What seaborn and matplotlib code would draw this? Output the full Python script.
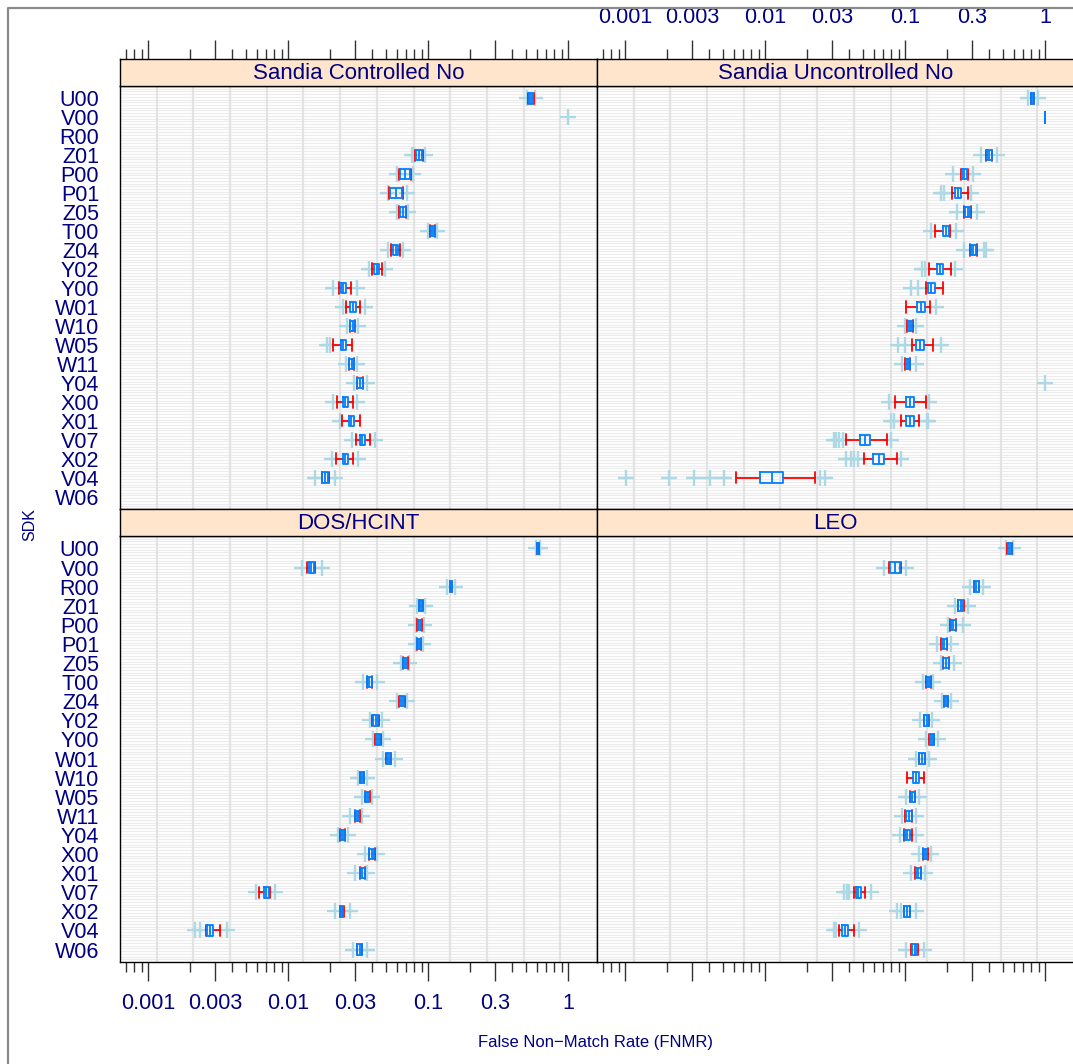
"""FNMR box-and-whisker panels by SDK for four datasets (lattice-style)."""

import numpy as np
import pandas as pd
import matplotlib.pyplot as plt
import matplotlib.ticker as mticker
from matplotlib.lines import Line2D
import seaborn as sns

SDKS = ["U00", "V00", "R00", "Z01", "P00", "P01", "Z05", "T00", "Z04", "Y02", "Y00",
        "W01", "W10", "W05", "W11", "Y04", "X00", "X01", "V07", "X02", "V04", "W06"]

PANELS = ["Sandia Controlled No", "Sandia Uncontrolled No", "DOS/HCINT", "LEO"]

# (whisker low, q1, median, q3, whisker high) per SDK, None = no box drawn
SCN_STATS = [
    (.52, .526, .544, .562, .57), None, None,
    (.081, .0821, .0862, .0906, .092), (.062, .0631, .0685, .0743, .075),
    (.053, .0535, .059, .0652, .066), (.062, .0631, .0662, .0696, .070),
    (.104, .105, .1085, .1122, .113), (.0544, .0562, .0586, .061, .0631),
    (.0398, .0411, .0429, .0449, .0467), (.0232, .0238, .0248, .0258, .0282),
    (.0258, .0277, .029, .0305, .0327), (.0275, .0277, .0291, .0301, .0303),
    (.0211, .0238, .0248, .0258, .0285), (.0272, .0274, .0285, .0296, .0298),
    (.031, .0313, .0327, .0342, .0345), (.0225, .0246, .0257, .027, .0293),
    (.0242, .0271, .0283, .0296, .0327), (.0305, .0327, .034, .0355, .0385),
    (.022, .0246, .0257, .027, .0293), (.0174, .0176, .0184, .0192, .0195), None,
]
SCN_OUT = [
    [.51, .58], [1.0], [], [.077, .079, .095], [.060, .078], [.0518, .0708],
    [.060, .072], [.100, .116], [.0518, .0663], [.0381, .0493], [.0209, .031],
    [.0246, .0355], [.0265, .0316], [.019, .020], [.0261, .031], [.0296, .0364],
    [.021, .0313], [.0235], [.0285, .0418], [.0205, .0318], [.0156, .0217], [],
]

SUN_STATS = [
    (.79, .794, .817, .838, .84), (1.0, 1.0, 1.0, 1.0, 1.0), None,
    (.38, .383, .397, .415, .42), (.25, .2535, .2644, .2764, .28),
    (.216, .228, .239, .2504, .2797), (.265, .2688, .2802, .292, .296),
    (.164, .187, .1955, .2045, .209), (.29, .2953, .3078, .3207, .325),
    (.1485, .1686, .178, .1883, .2125), (.1406, .146, .1545, .1632, .1883),
    (.1012, .1213, .1295, .1384, .151), (.104, .105, .109, .113, .114),
    (.113, .1207, .1285, .1368, .1597), (.100, .1012, .105, .1086, .109), None,
    (.0844, .1012, .108, .116, .1406), (.0931, .1012, .108, .116, .126),
    (.0376, .0476, .0517, .0562, .0739), (.0509, .0594, .0648, .0707, .0882),
    (.00624, .00916, .01125, .0135, .0226), None,
]
SUN_OUT = [
    [.752, .887], [], [], [.348, .453], [.2185, .304], [.18, .19, .2953],
    [.237, .326], [.1527, .2306], [.2644, .3677, .38], [.1316, .1384, .227],
    [.1099, .124], [.166], [.0995, .119], [.0897, .0995, .18], [.0958, .119],
    [1.0], [.0768, .1485], [.079, .083, .143, .145],
    [.031, .0324, .0339, .0358, .079], [.0376, .0409, .0429, .0459, .0931],
    [.00102, .00207, .00309, .00407, .00512, .0249, .027], [],
]

DOS_STATS = [
    (.598, .6, .6105, .621, .623), (.0136, .0141, .01467, .01534, .0156),
    (.143, .144, .146, .148, .149), (.086, .0867, .0891, .0917, .0925),
    (.084, .0844, .0867, .0891, .090), (.0835, .0839, .0862, .0885, .089),
    (.066, .0667, .0688, .0711, .0715), (.0365, .0368, .0382, .0396, .040),
    (.0625, .0631, .0652, .0674, .068), (.040, .0403, .0422, .0442, .0445),
    (.042, .0425, .044, .0454, .046), (.0505, .0507, .0524, .0542, .0545),
    (.0325, .0327, .0338, .0349, .035), (.0353, .0355, .0368, .0381, .0383),
    (.030, .0301, .0312, .0323, .0325), (.0237, .0238, .0246, .0255, .0257),
    (.0377, .0379, .0396, .0413, .0415), (.0325, .0327, .034, .0355, .0357),
    (.00624, .00674, .007, .00728, .0074), (.0234, .0235, .0242, .0248, .025),
    (.0026, .00265, .00277, .0029, .00327), (.0311, .0313, .0325, .0338, .034),
]
DOS_OUT = [
    [.595, .628], [.01253, .0174], [.136, .156], [.084, .095], [.082, .093],
    [.0815, .092], [.064, .0735], [.0342, .043], [.0597, .0705], [.0385, .0467],
    [.0405, .048], [.0475, .0581], [.0318, .0365], [.0336, .0396], [.0277, .0336],
    [.0229, .027], [.0355, .043], [.0301, .0365], [.0059, .00807], [.0217, .0277],
    [.00217, .00235, .00365], [.029, .0365],
]

LEO_STATS = [
    (.538, .541, .559, .578, .58), (.077, .078, .0848, .0921, .093),
    (.31, .312, .3234, .3353, .337), (.238, .2394, .2495, .26, .262),
    (.211, .2125, .2213, .2306, .232), (.181, .1823, .1902, .1988, .20),
    (.187, .1883, .1963, .2045, .206), (.142, .143, .1478, .1527, .154),
    (.189, .1902, .1955, .2012, .202), (.136, .1368, .1425, .1485, .1495),
    (.149, .15, .1558, .1613, .162), (.125, .126, .1323, .139, .14),
    (.104, .1148, .1202, .126, .1368), (.108, .1086, .113, .1173, .118),
    (.1005, .1012, .1063, .1117, .1125), (.099, .0995, .104, .1086, .113),
    (.135, .1355, .14, .1446, .145), (.1185, .119, .1243, .1295, .130),
    (.043, .0444, .0462, .0482, .0517), (.098, .0984, .1033, .1086, .109),
    (.034, .0356, .0374, .0393, .0431), (.111, .1117, .117, .1227, .123),
]
LEO_OUT = [
    [.53, .59], [.0707, .1012], [.292, .358], [.227, .2797], [.2012, .2575],
    [.1686, .2148], [.18, .222], [.1355, .1597], [.184, .2125], [.128, .157],
    [.1406, .172], [.119, .1485], [], [.1012, .126], [.0958, .119], [.0921, .119],
    [.126, .154], [.1099, .1384], [.0366, .0383, .0397, .0568],
    [.0882, .0931, .119], [.031, .0324, .0469], [.1012, .1368],
]

MAJOR_TICKS = [0.001, 0.003, 0.01, 0.03, 0.1, 0.3, 1]
MAJOR_LABELS = ["0.001", "0.003", "0.01", "0.03", "0.1", "0.3", "1"]
MINOR_TICKS = [0.0007, 0.0008, 0.0009, 0.002, 0.004, 0.005, 0.006, 0.007, 0.008, 0.009,
               0.02, 0.04, 0.05, 0.06, 0.07, 0.08, 0.09,
               0.2, 0.4, 0.5, 0.6, 0.7, 0.8, 0.9]

NAVY = "#000080"
BOX_BLUE = "#0080ff"
LIGHT = "#add8e6"
STRIP = "#ffe5cc"
XLO, XHI = 10 ** -3.2, 10 ** 0.207
YLO, YHI = 0.35, 22.65

sns.set_theme(style="white")
plt.rcParams["font.family"] = ["Liberation Sans", "DejaVu Sans"]

# long tables for the grid
box_rows, out_rows = [], []
all_stats = [SCN_STATS, SUN_STATS, DOS_STATS, LEO_STATS]
all_out = [SCN_OUT, SUN_OUT, DOS_OUT, LEO_OUT]
for panel, stats, outs in zip(PANELS, all_stats, all_out):
    for i, (sdk, st, ol) in enumerate(zip(SDKS, stats, outs)):
        if st is not None:
            box_rows.append(dict(panel=panel, sdk=sdk, pos=i + 1, whislo=st[0], q1=st[1],
                                 med=st[2], q3=st[3], whishi=st[4]))
        for v in ol:
            out_rows.append(dict(panel=panel, sdk=sdk, pos=i + 1, fnmr=v))
box_df = pd.DataFrame(box_rows)
out_df = pd.DataFrame(out_rows)


def draw_panel(data, **kws):
    ax = plt.gca()
    panel = data["panel"].iloc[0]
    ax.set_xscale("log")
    # background grid like lattice panel.grid
    ax.hlines(np.linspace(YLO, YHI, 157), XLO, XHI, color="#ececec", lw=0.8, zorder=0)
    for gx in 10 ** np.linspace(-3.2, 0.207, 14)[1:-1]:
        ax.axvline(gx, color="#e3e3e3", lw=1.6, zorder=0.5)

    o = out_df[out_df["panel"] == panel]
    sns.scatterplot(data=o, x="fnmr", y="pos", marker="+", s=130, color=LIGHT,
                    linewidth=1.7, ax=ax, zorder=2, legend=False)

    stats = [dict(whislo=r.whislo, q1=r.q1, med=r.med, q3=r.q3, whishi=r.whishi, fliers=[])
             for r in data.itertuples()]
    parts = ax.bxp(stats, positions=data["pos"].tolist(), orientation="horizontal",
                   widths=0.55, capwidths=0.6, showfliers=False, manage_ticks=False,
                   boxprops=dict(color=BOX_BLUE, lw=1.3),
                   medianprops=dict(color=BOX_BLUE, lw=1.3),
                   whiskerprops=dict(color="#ff0000", lw=1.3),
                   capprops=dict(color="#ff0000", lw=1.3))
    for ln in parts["whiskers"] + parts["caps"]:
        ln.set_zorder(3)
    for ln in parts["boxes"] + parts["medians"]:
        ln.set_zorder(4)


g = sns.FacetGrid(box_df, col="panel", col_order=PANELS, col_wrap=2, sharex=True, sharey=True)
g.map_dataframe(draw_panel)
fig = g.figure
fig.set_size_inches(10.73, 10.64)
W, H = 1073.0, 1064.0


def frac(x0, y0, x1, y1):
    return [x0 / W, 1 - y1 / H, (x1 - x0) / W, (y1 - y0) / H]


body_px = {0: (120, 86, 597, 509), 1: (597, 86, 1074, 509),
           2: (120, 536, 597, 962), 3: (597, 536, 1074, 962)}
strip_px = {0: (120, 59, 597, 86), 1: (597, 59, 1074, 86),
            2: (120, 509, 597, 536), 3: (597, 509, 1074, 536)}


def set_log_ticks(ax):
    ax.xaxis.set_major_locator(mticker.FixedLocator(MAJOR_TICKS))
    ax.xaxis.set_major_formatter(mticker.FixedFormatter(MAJOR_LABELS))
    ax.xaxis.set_minor_locator(mticker.FixedLocator(MINOR_TICKS))
    ax.xaxis.set_minor_formatter(mticker.NullFormatter())


axes = list(g.axes.flat)
# y axis is shared, so the labels are set once
axes[0].set_yticks(range(1, len(SDKS) + 1))
axes[0].set_yticklabels(SDKS)

for k, ax in enumerate(axes):
    ax.set_position(frac(*body_px[k]))
    ax.set_xlim(XLO, XHI)
    ax.set_ylim(YHI, YLO)
    ax.set_title("")
    ax.set_xlabel("")
    ax.set_ylabel("")
    ax.grid(False)
    for sp in ax.spines.values():
        sp.set_visible(True)
        sp.set_color("black")
        sp.set_linewidth(1.0)
    ax.tick_params(axis="y", length=0, pad=15, left=False, labelsize=15.5,
                   labelcolor=NAVY, labelleft=(k in (0, 2)))
    set_log_ticks(ax)
    if k >= 2:
        ax.tick_params(axis="x", which="major", bottom=True, top=False, length=14,
                       width=1.0, color="#333333", direction="out", pad=8,
                       labelsize=15.5, labelcolor=NAVY, labelbottom=(k == 2))
        ax.tick_params(axis="x", which="minor", bottom=True, top=False, length=7.5,
                       width=1.0, color="#333333", direction="out")
    else:
        ax.tick_params(axis="x", which="both", bottom=False, top=False,
                       labelbottom=False, labeltop=False)

    # strip above each panel
    sax = fig.add_axes(frac(*strip_px[k]))
    sax.set_facecolor(STRIP)
    sax.set_xscale("log")
    sax.set_xlim(XLO, XHI)
    sax.set_ylim(0, 1)
    sax.set_yticks([])
    for sp in sax.spines.values():
        sp.set_visible(True)
        sp.set_color("black")
        sp.set_linewidth(1.0)
    set_log_ticks(sax)
    if k < 2:
        sax.tick_params(axis="x", which="major", top=True, bottom=False, length=14,
                        width=1.0, color="#333333", direction="out", pad=8,
                        labelsize=15.5, labelcolor=NAVY, labeltop=(k == 1),
                        labelbottom=False)
        sax.tick_params(axis="x", which="minor", top=True, bottom=False, length=7.5,
                        width=1.0, color="#333333", direction="out")
    else:
        sax.tick_params(axis="x", which="both", top=False, bottom=False,
                        labeltop=False, labelbottom=False)
    sax.text(0.5, 0.45, PANELS[k], transform=sax.transAxes, ha="center", va="center",
             fontsize=16, color=NAVY)

fig.text(30 / W, 1 - 525 / H, "SDK", rotation=90, ha="center", va="center",
         fontsize=11.5, color=NAVY)
fig.text(595 / W, 1 - 1043 / H, "False Non\u2212Match Rate (FNMR)", ha="center",
         va="center", fontsize=12, color=NAVY)

# grey frame edge of the original screenshot
fig.add_artist(Line2D([8 / W, 8 / W, 1.0], [0.0, 1 - 8 / H, 1 - 8 / H],
                      transform=fig.transFigure, color="#8a8a8a", lw=1.6))

fig.savefig("out.png", dpi=100)
